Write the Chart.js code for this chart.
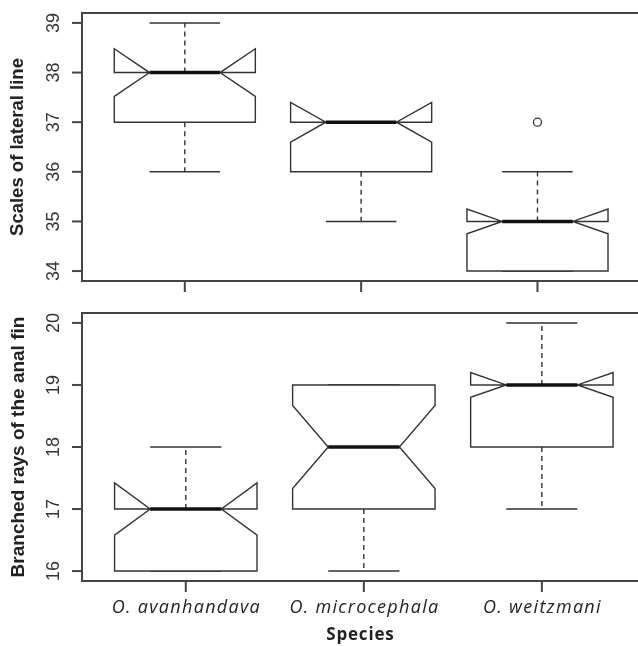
<!DOCTYPE html>
<html>
<head>
<meta charset="utf-8">
<script src="https://cdn.jsdelivr.net/npm/chart.js@4/dist/chart.umd.min.js"></script>
<style>
  html, body { margin: 0; padding: 0; background: #fff; overflow: hidden; }
  #wrap { position: relative; width: 638px; height: 646px; }
  canvas { position: absolute; left: 0; }
</style>
</head>
<body>
<div id="wrap">
  <canvas id="topChart" width="638" height="300" style="top:0"></canvas>
  <canvas id="bottomChart" width="638" height="346" style="top:300px"></canvas>
</div>
<script>
const species = ['O. avanhandava', 'O. microcephala', 'O. weitzmani'];

// Scales of lateral line
const scalesWhiskerLo = [36, 35, 34];
const scalesQ1 = [37, 36, 34];
const scalesMedian = [38, 37, 35];
const scalesQ3 = [38, 37, 35];
const scalesWhiskerHi = [39, 37, 36];
const scalesNotchLo = [37.52, 36.6, 34.75];
const scalesNotchHi = [38.48, 37.4, 35.25];
const scalesOutliers = [{ x: 3, y: 37 }];
const scalesTicks = [34, 35, 36, 37, 38, 39];

// Branched rays of the anal fin
const raysWhiskerLo = [16, 16, 17];
const raysQ1 = [16, 17, 18];
const raysMedian = [17, 18, 19];
const raysQ3 = [17, 19, 19];
const raysWhiskerHi = [18, 19, 20];
const raysNotchLo = [16.58, 17.33, 18.8];
const raysNotchHi = [17.42, 18.67, 19.2];
const raysOutliers = [];
const raysTicks = [16, 17, 18, 19, 20];

const lineColor = '#333';

const rBoxPlugin = {
    id: 'rBox',
    beforeDatasetsDraw(chart, args, o) {
        const { ctx, scales: { x, y } } = chart;
        ctx.save();
        o.median.forEach((m, i) => {
            const cx = x.getPixelForValue(i + 1);
            const w = x.getPixelForValue(i + 1.4) - cx;
            const q1 = y.getPixelForValue(o.q1[i]);
            const q3 = y.getPixelForValue(o.q3[i]);
            const med = y.getPixelForValue(m);
            const nLo = y.getPixelForValue(o.notchLo[i]);
            const nHi = y.getPixelForValue(o.notchHi[i]);
            const wLo = y.getPixelForValue(o.whiskerLo[i]);
            const wHi = y.getPixelForValue(o.whiskerHi[i]);

            ctx.strokeStyle = lineColor;
            ctx.lineWidth = 1.4;

            // whiskers (dashed)
            ctx.setLineDash([5, 4]);
            ctx.beginPath();
            ctx.moveTo(cx, q1); ctx.lineTo(cx, wLo);
            ctx.moveTo(cx, q3); ctx.lineTo(cx, wHi);
            ctx.stroke();
            ctx.setLineDash([]);

            // staples
            ctx.beginPath();
            ctx.moveTo(cx - w / 2, wLo); ctx.lineTo(cx + w / 2, wLo);
            ctx.moveTo(cx - w / 2, wHi); ctx.lineTo(cx + w / 2, wHi);
            ctx.stroke();

            // notched box
            ctx.beginPath();
            ctx.moveTo(cx - w, q1);
            ctx.lineTo(cx - w, nLo);
            ctx.lineTo(cx - w / 2, med);
            ctx.lineTo(cx - w, nHi);
            ctx.lineTo(cx - w, q3);
            ctx.lineTo(cx + w, q3);
            ctx.lineTo(cx + w, nHi);
            ctx.lineTo(cx + w / 2, med);
            ctx.lineTo(cx + w, nLo);
            ctx.lineTo(cx + w, q1);
            ctx.closePath();
            ctx.fillStyle = '#fff';
            ctx.fill();
            ctx.stroke();

            // median
            ctx.strokeStyle = '#111';
            ctx.lineWidth = 3.5;
            ctx.beginPath();
            ctx.moveTo(cx - w / 2, med); ctx.lineTo(cx + w / 2, med);
            ctx.stroke();
        });
        ctx.restore();
    },
    afterDraw(chart, args, o) {
        const { ctx, chartArea: a, scales: { x, y } } = chart;
        ctx.save();
        ctx.strokeStyle = '#444';
        ctx.lineWidth = 2;

        // plot frame (right edge is cut off in the original)
        ctx.beginPath();
        ctx.moveTo(chart.width, a.top); ctx.lineTo(a.left, a.top);
        ctx.lineTo(a.left, a.bottom); ctx.lineTo(chart.width, a.bottom);
        ctx.stroke();

        // y ticks + rotated labels
        ctx.fillStyle = '#333';
        ctx.font = '18px "Liberation Sans", Arial, sans-serif';
        ctx.textAlign = 'center';
        ctx.textBaseline = 'middle';
        o.ticks.forEach(t => {
            const py = y.getPixelForValue(t);
            ctx.beginPath();
            ctx.moveTo(a.left - 10, py); ctx.lineTo(a.left, py);
            ctx.stroke();
            ctx.save();
            ctx.translate(a.left - 29, py);
            ctx.rotate(-Math.PI / 2);
            ctx.fillText(String(t), 0, 1);
            ctx.restore();
        });

        // y title
        ctx.save();
        ctx.font = 'bold ' + o.titleSize + 'px "Liberation Sans", Arial, sans-serif';
        ctx.fillStyle = '#222';
        ctx.translate(o.titleX, (a.top + a.bottom) / 2);
        ctx.rotate(-Math.PI / 2);
        ctx.fillText(o.title, 0, 0);
        ctx.restore();

        // x ticks
        species.forEach((s, i) => {
            const px = x.getPixelForValue(i + 1);
            ctx.beginPath();
            ctx.moveTo(px, a.bottom); ctx.lineTo(px, a.bottom + 11);
            ctx.stroke();
            if (o.showX) {
                ctx.font = 'italic 18px "Open Sans", sans-serif';
                ctx.letterSpacing = '1.3px';
                ctx.fillStyle = '#222';
                ctx.fillText(s, px + 0.6, a.bottom + 27);
            }
        });
        if (o.showX) {
            ctx.font = 'bold 17px "Open Sans", sans-serif';
            ctx.letterSpacing = '0.8px';
            ctx.fillStyle = '#222';
            ctx.fillText('Species', 360.4, a.bottom + 54);
        }
        ctx.restore();
    }
};

function makePanel(id, pad, yMin, yMax, outliers, box) {
    return new Chart(document.getElementById(id), {
        type: 'scatter',
        data: {
            datasets: [{
                data: outliers,
                pointStyle: 'circle',
                pointRadius: 4,
                pointBorderWidth: 1.3,
                pointBorderColor: lineColor,
                pointBackgroundColor: '#fff'
            }]
        },
        options: {
            responsive: false,
            animation: false,
            layout: { padding: pad },
            scales: {
                x: { type: 'linear', min: 0.417, max: 3.54, display: false },
                y: { min: yMin, max: yMax, display: false }
            },
            plugins: {
                legend: { display: false },
                tooltip: { enabled: false },
                rBox: box
            }
        },
        plugins: [rBoxPlugin]
    });
}

makePanel('topChart', { left: 82, right: 0, top: 13, bottom: 19 }, 33.8, 39.2, scalesOutliers, {
    whiskerLo: scalesWhiskerLo, q1: scalesQ1, median: scalesMedian, q3: scalesQ3,
    whiskerHi: scalesWhiskerHi, notchLo: scalesNotchLo, notchHi: scalesNotchHi,
    ticks: scalesTicks, title: 'Scales of lateral line', titleX: 18, titleSize: 18.5, showX: false
});

makePanel('bottomChart', { left: 82, right: 0, top: 13, bottom: 65 }, 15.84, 20.16, raysOutliers, {
    whiskerLo: raysWhiskerLo, q1: raysQ1, median: raysMedian, q3: raysQ3,
    whiskerHi: raysWhiskerHi, notchLo: raysNotchLo, notchHi: raysNotchHi,
    ticks: raysTicks, title: 'Branched rays of the anal fin', titleX: 19, titleSize: 19, showX: true
});
</script>
</body>
</html>
